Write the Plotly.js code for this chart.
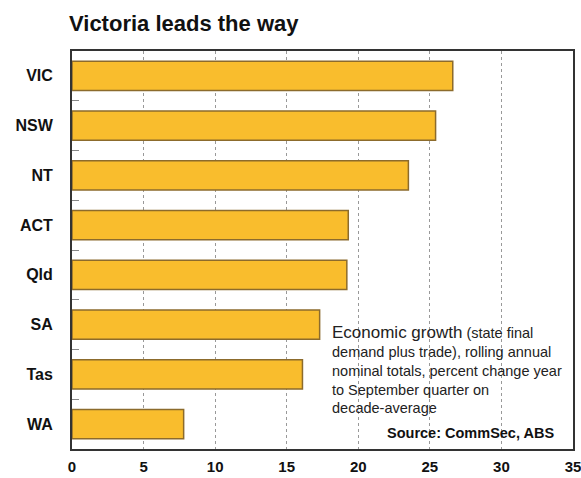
<!DOCTYPE html>
<html><head><script src="https://cdn.plot.ly/plotly-3.0.1.min.js"></script>
<style>body{margin:0;background:#fff}</style></head>
<body><div id="chart" style="width:581px;height:478px"></div>
<script>
const states = ["VIC","NSW","NT","ACT","Qld","SA","Tas","WA"];
const growth = [26.6,25.4,23.5,19.3,19.2,17.3,16.1,7.8];
const xTicks = [0,5,10,15,20,25,30,35];
const titleText = "Victoria leads the way";
const noteHead = "Economic growth";
const noteBody = " (state final<br>demand plus trade), rolling annual<br>nominal totals, percent change year<br>to September quarter on<br>decade-average";
const sourceText = "Source: CommSec, ABS";

const trace = {
  type: "bar", orientation: "h",
  x: growth, y: states,
  width: 0.59,
  marker: {color: "#F9BD2D", line: {color: "#8C6B2C", width: 1.5}},
  hoverinfo: "x+y"
};
const layout = {
  width: 581, height: 478,
  margin: {l: 72, r: 8, t: 51, b: 29},
  paper_bgcolor: "#fff", plot_bgcolor: "#fff",
  showlegend: false,
  font: {family: "Liberation Sans, Arial, sans-serif", color: "#111"},
  title: {text: titleText, font: {size: 22, weight: "bold", color: "#111"},
          xref: "container", yref: "container", x: 69/581, xanchor: "left", y: 1 - 16/478, yanchor: "top"},
  xaxis: {
    range: [0, 35], tickvals: xTicks, ticktext: xTicks.map(String),
    showgrid: true, gridcolor: "#999", griddash: "dot", gridwidth: 1,
    zeroline: false, showline: true, mirror: true, linecolor: "#333", linewidth: 2,
    ticks: "", tickfont: {size: 15, weight: "bold", color: "#111"}, ticklabelstandoff: 3,
    ticklabeloverflow: "allow",
    fixedrange: true
  },
  yaxis: {
    type: "category", categoryorder: "array", categoryarray: states,
    range: [7.5, -0.5],
    showgrid: false, zeroline: false, showline: true, mirror: true, linecolor: "#333", linewidth: 2,
    ticks: "inside", tickson: "boundaries", ticklen: 7, tickcolor: "#888", tickwidth: 1,
    tickfont: {size: 16, weight: "bold", color: "#111"}, ticklabelstandoff: 14,
    fixedrange: true
  },
  annotations: [
    {xref: "x", yref: "paper", x: 18.0, y: (449-321)/398, xanchor: "left", yanchor: "top", align: "left",
     showarrow: false,
     text: '<span style="font-size:17px">' + noteHead + '</span>' + noteBody,
     font: {size: 14.5, color: "#222"}},
    {xref: "x", yref: "paper", x: 33.8, y: (449-433)/398, xanchor: "right", yanchor: "middle",
     showarrow: false, text: sourceText, font: {size: 14.5, weight: "bold", color: "#111"}}
  ]
};
Plotly.newPlot("chart", [trace], layout, {displayModeBar: false, staticPlot: true});
</script></body></html>
